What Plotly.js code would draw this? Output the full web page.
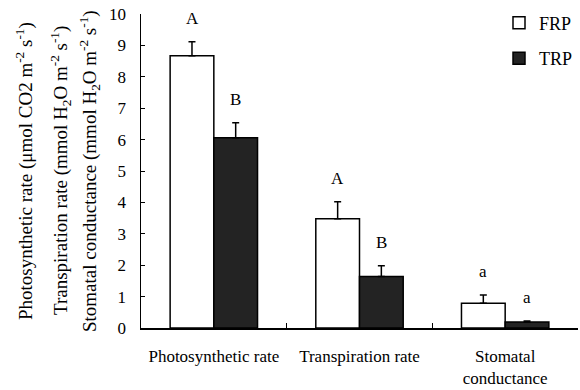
<!DOCTYPE html>
<html><head><meta charset="utf-8">
<script src="https://cdn.plot.ly/plotly-3.0.1.min.js"></script>
<style>html,body{margin:0;padding:0;background:#fff}</style>
</head><body>
<div id="chart" style="width:580px;height:390px"></div>
<script>
var categories = ["Photosynthetic rate", "Transpiration rate", "Stomatal<br>conductance"];
var frpValues = [8.67, 3.48, 0.79];
var frpErrors = [0.45, 0.54, 0.26];
var trpValues = [6.06, 1.64, 0.19];
var trpErrors = [0.48, 0.34, 0.03];
var frpLetters = ["A", "A", "a"];
var trpLetters = ["B", "B", "a"];
var yTitles = [
  "Photosynthetic rate (μmol CO2 m<sup>-2</sup> s<sup>-1</sup>)",
  "Transpiration rate (mmol H<sub>2</sub>O m<sup>-2</sup> s<sup>-1</sup>)",
  "Stomatal conductance (mmol H<sub>2</sub>O m<sup>-2</sup> s<sup>-1</sup>)"
];

var serif = "Liberation Serif, Times New Roman, serif";
var zeros = frpValues.map(function(){return 0;});

var traces = [
  {type:"bar", name:"FRP", x:categories, y:frpValues, legendgroup:"f",
   marker:{color:"#ffffff", line:{color:"#000", width:1.5}},
   error_y:{type:"data", symmetric:false, array:frpErrors, arrayminus:zeros, color:"#000", thickness:1.5, width:3.5}},
  {type:"bar", name:"TRP", x:categories, y:trpValues, legendgroup:"t",
   marker:{color:"#232323", line:{color:"#000", width:1.5}},
   error_y:{type:"data", symmetric:false, array:trpErrors, arrayminus:zeros, color:"#000", thickness:1.5, width:3.5}}
];

var annotations = [];
categories.forEach(function(c, i){
  annotations.push({x:c, y:frpValues[i]+frpErrors[i], xref:"x", yref:"y", text:frpLetters[i],
    showarrow:false, xshift:-21.8, yanchor:"bottom", yshift:12, font:{family:serif, size:17, color:"#000"}});
  annotations.push({x:c, y:trpValues[i]+trpErrors[i], xref:"x", yref:"y", text:trpLetters[i],
    showarrow:false, xshift:21.8, yanchor:"bottom", yshift:12, font:{family:serif, size:17, color:"#000"}});
});
var titleX = [24, 60, 89];
yTitles.forEach(function(t, i){
  annotations.push({x:0, y:0.5, xref:"paper", yref:"paper", text:t, textangle:-90, showarrow:false,
    xshift:titleX[i]-141, xanchor:"center", yanchor:"middle", font:{family:serif, size:19, color:"#000"}});
});

var layout = {
  width:580, height:390,
  margin:{l:141, r:2, t:14, b:62},
  paper_bgcolor:"#fff", plot_bgcolor:"#fff",
  barmode:"group", bargap:0.4, bargroupgap:0,
  showlegend:true,
  legend:{x:1, xanchor:"right", y:1.03, yanchor:"top", bgcolor:"rgba(0,0,0,0)",
    font:{family:serif, size:18, color:"#000"}, traceorder:"grouped", tracegroupgap:9, itemwidth:30},
  xaxis:{type:"category", showline:true, linecolor:"#000", linewidth:1.5, ticks:"inside", ticklen:5,
    tickson:"boundaries", tickcolor:"#000", ticklabelstandoff:12, tickfont:{family:serif, size:17, color:"#000"}, showgrid:false, zeroline:false},
  yaxis:{range:[0,10], dtick:1, showline:true, linecolor:"#000", linewidth:1.5, ticks:"inside", ticklen:4,
    tickcolor:"#000", ticklabelstandoff:10, tickfont:{family:serif, size:17, color:"#000"}, showgrid:false, zeroline:false},
  annotations:annotations
};
Plotly.newPlot("chart", traces, layout, {displayModeBar:false, staticPlot:true});
</script>
</body></html>
